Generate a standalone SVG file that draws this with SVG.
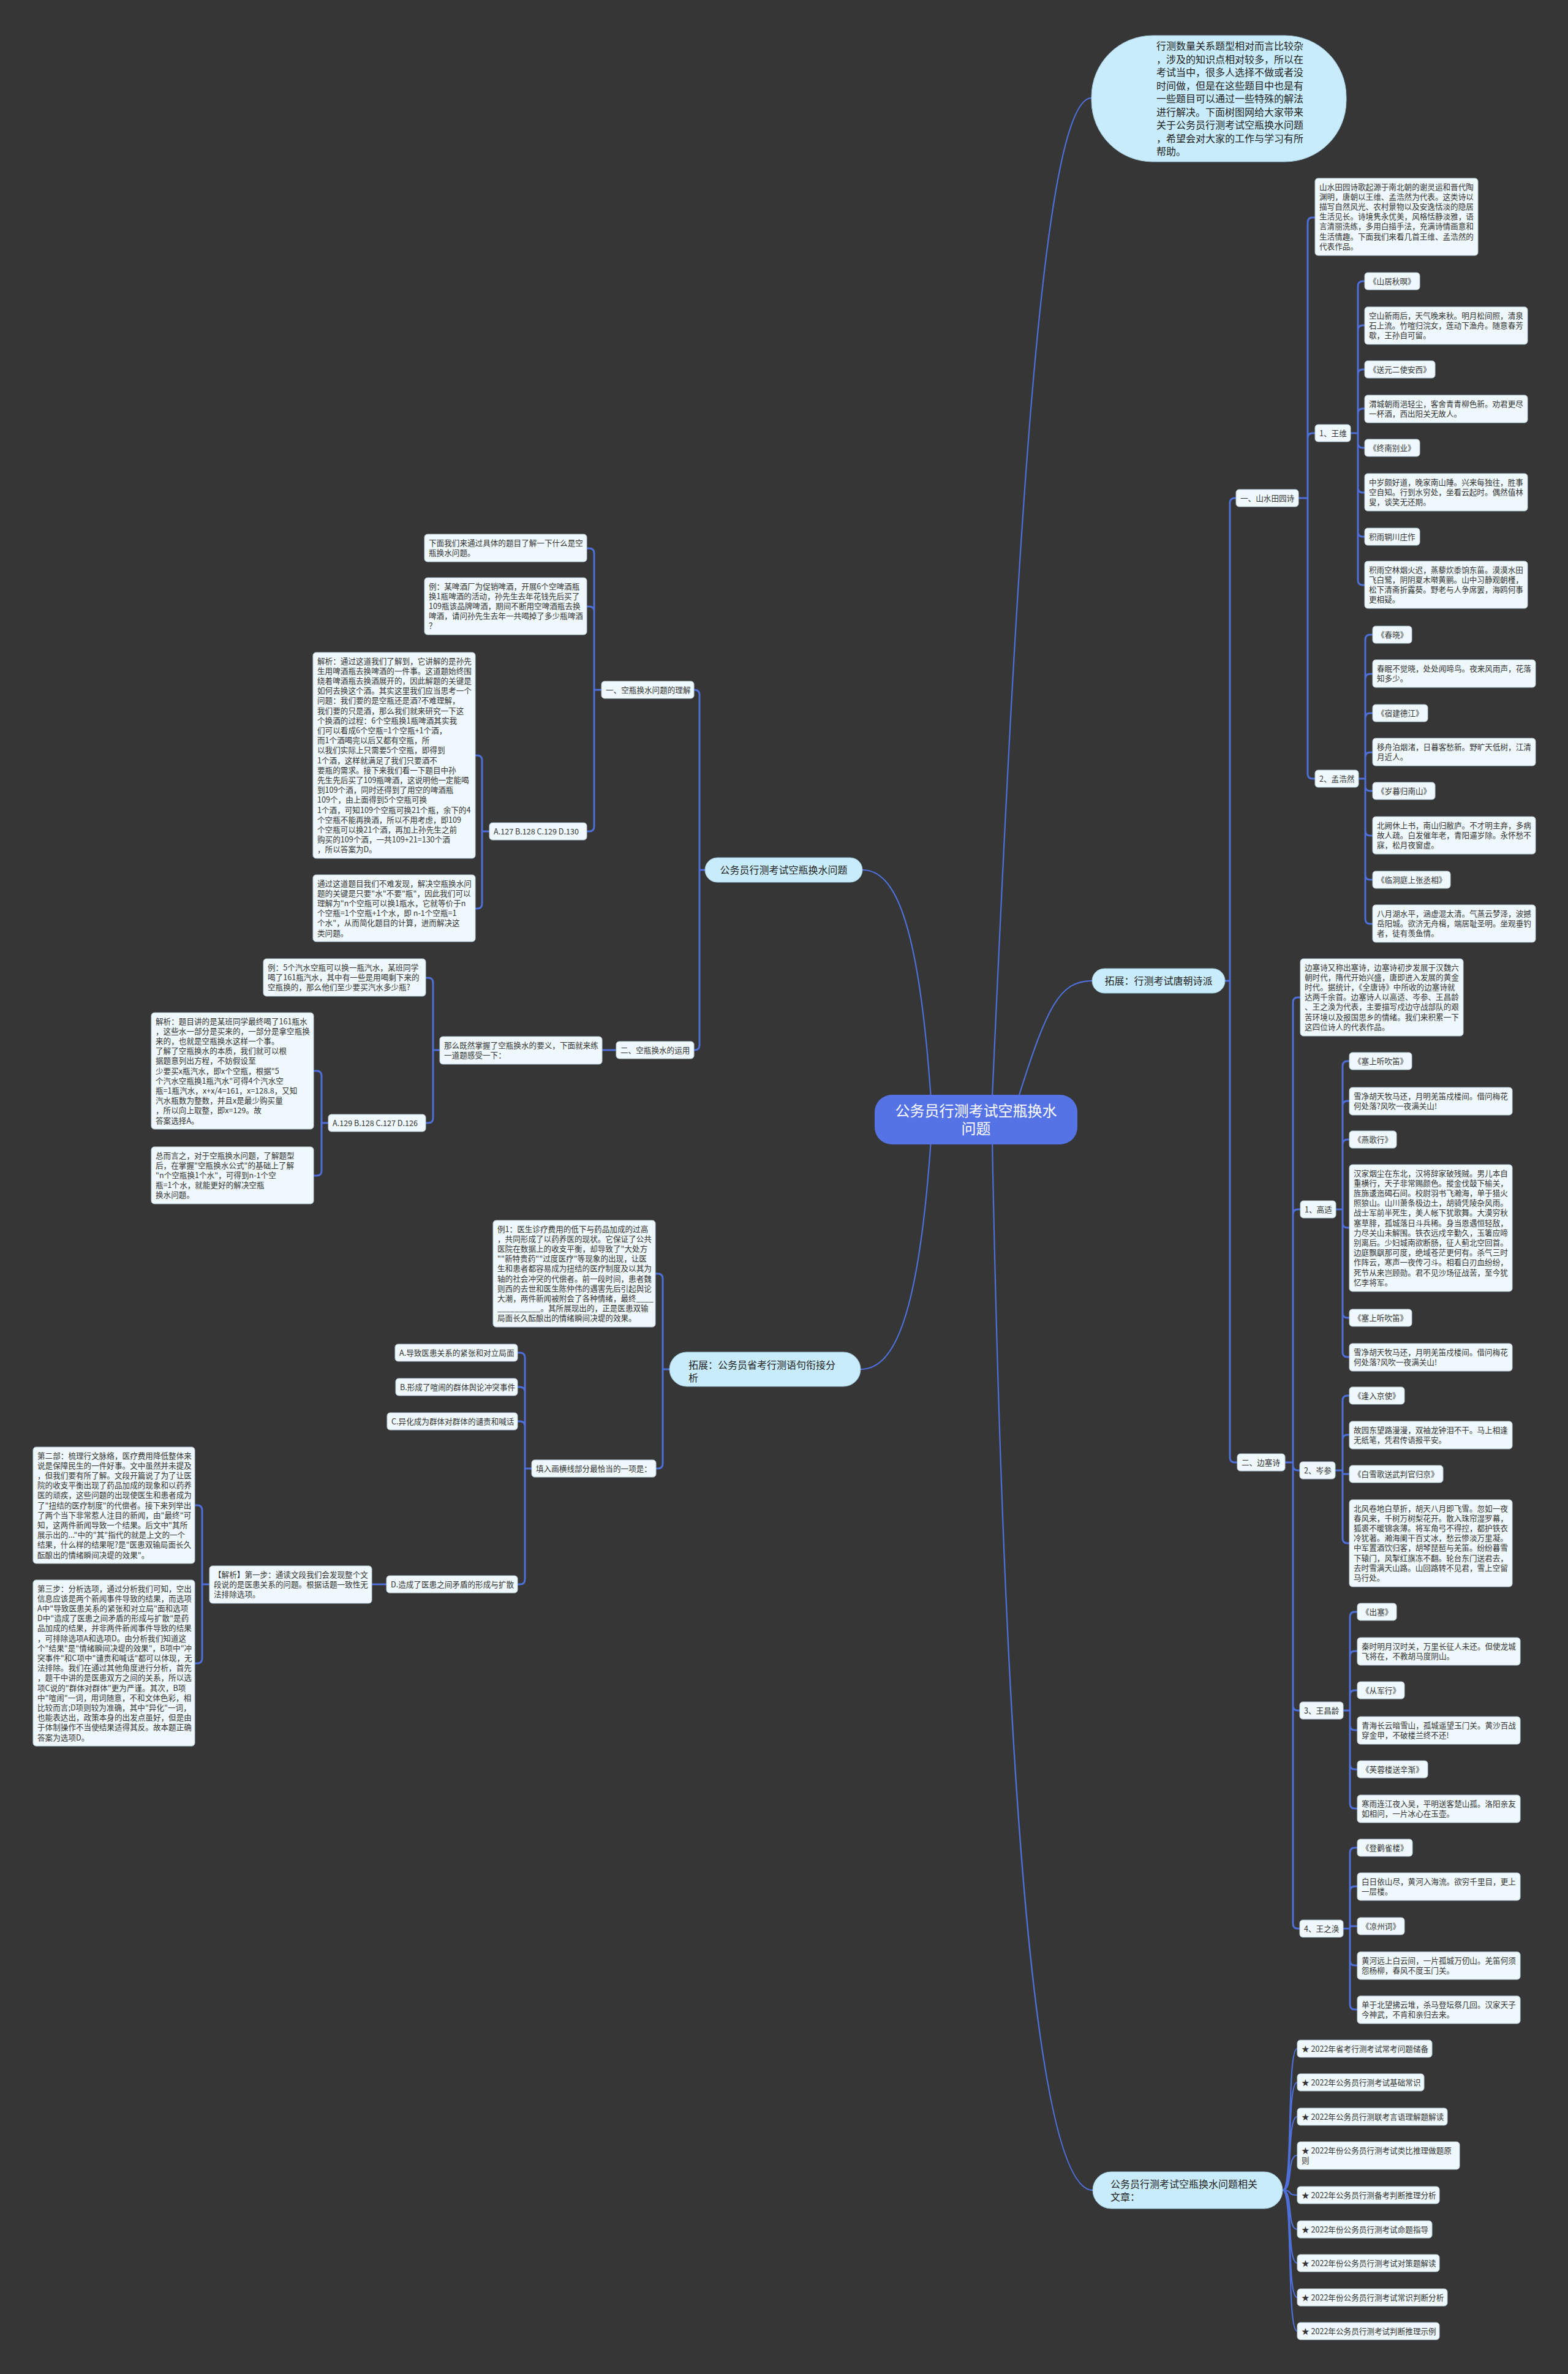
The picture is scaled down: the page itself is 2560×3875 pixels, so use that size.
<svg xmlns="http://www.w3.org/2000/svg" width="2560" height="3875" viewBox="0 0 2560 3875">
<style>
.t{font-family:"Noto Sans CJK SC","Noto Sans",sans-serif;font-size:12.6px;fill:#333}
.pt{font-family:"Noto Sans CJK SC","Noto Sans",sans-serif;font-size:16px;fill:#222}
.box{fill:#eff9fd;stroke:#b9ccd6;stroke-width:1}
.pill{fill:#c8ecfb;stroke:#9fc6d8;stroke-width:1}
.c{fill:none;stroke:#4f6fd8;stroke-width:3}
.m{fill:none;stroke:#4f6fd8;stroke-width:2.2}
</style>
<rect x="0" y="0" width="2560" height="3875" fill="#363636"/>
<g id="connectors">
<path class="m" d="M1620,1790 C1660,900 1700,160 1782,160"/>
<path class="m" d="M1660,1800 C1710,1640 1730,1601 1783,1601"/>
<path class="m" d="M1620,1865 C1640,2900 1690,3575 1784,3575"/>
<path class="m" d="M1520,1795 C1500,1500 1460,1420 1408,1420"/>
<path class="m" d="M1520,1860 C1500,2150 1460,2235 1405,2235"/>
<path class="c" d="M2000,1601 H2008 V821 Q2008,813 2016,813 H2018 M2008,1601 V2379 Q2008,2387 2016,2387 H2020"/>
<path class="c" d="M2120,813 H2135 V363 Q2135,355 2143,355 H2147 M2135,813 V715 Q2135,707 2143,707 H2147 M2135,813 V1263 Q2135,1271 2143,1271 H2147"/>
<path class="c" d="M2205,707 H2217 V467 Q2217,459 2225,459 H2228 M2217,707 V539 Q2217,531 2225,531 H2228 M2217,707 V611 Q2217,603 2225,603 H2228 M2217,707 V675 Q2217,667 2225,667 H2228 M2217,707 V723 Q2217,731 2225,731 H2228 M2217,707 V796 Q2217,804 2225,804 H2228 M2217,707 V868 Q2217,876 2225,876 H2228 M2217,707 V947 Q2217,955 2225,955 H2228"/>
<path class="c" d="M2218,1271 H2229 V1044 Q2229,1036 2237,1036 H2241 M2229,1271 V1108 Q2229,1100 2237,1100 H2241 M2229,1271 V1172 Q2229,1164 2237,1164 H2241 M2229,1271 V1236 Q2229,1228 2237,1228 H2241 M2229,1271 V1283 Q2229,1291 2237,1291 H2241 M2229,1271 V1356 Q2229,1364 2237,1364 H2241 M2229,1271 V1428 Q2229,1436 2237,1436 H2241 M2229,1271 V1500 Q2229,1508 2237,1508 H2241"/>
<path class="c" d="M2098,2387 H2111 V1636 Q2111,1628 2119,1628 H2123 M2111,2387 V1982 Q2111,1974 2119,1974 H2123 M2111,2387 V2392 Q2111,2400 2119,2400 H2122 M2111,2387 V2784 Q2111,2792 2119,2792 H2122 M2111,2387 V3140 Q2111,3148 2119,3148 H2122"/>
<path class="c" d="M2181,1974 H2192 V1740 Q2192,1732 2200,1732 H2203 M2192,1974 V1805 Q2192,1797 2200,1797 H2203 M2192,1974 V1868 Q2192,1860 2200,1860 H2203 M2192,1974 V1996 Q2192,2004 2200,2004 H2203 M2192,1974 V2143 Q2192,2151 2200,2151 H2203 M2192,1974 V2207 Q2192,2215 2200,2215 H2203"/>
<path class="c" d="M2180,2400 H2192 V2286 Q2192,2278 2200,2278 H2203 M2192,2400 V2350 Q2192,2342 2200,2342 H2203 M2192,2400 V2406 H2203 M2192,2400 V2511 Q2192,2519 2200,2519 H2203"/>
<path class="c" d="M2193,2792 H2204 V2639 Q2204,2631 2212,2631 H2216 M2204,2792 V2703 Q2204,2695 2212,2695 H2216 M2204,2792 V2767 Q2204,2759 2212,2759 H2216 M2204,2792 V2816 Q2204,2824 2212,2824 H2216 M2204,2792 V2880 Q2204,2888 2212,2888 H2216 M2204,2792 V2944 Q2204,2952 2212,2952 H2216"/>
<path class="c" d="M2193,3148 H2204 V3024 Q2204,3016 2212,3016 H2216 M2204,3148 V3087 Q2204,3079 2212,3079 H2216 M2204,3148 V3144 H2216 M2204,3148 V3200 Q2204,3208 2212,3208 H2216 M2204,3148 V3272 Q2204,3280 2212,3280 H2216"/>
<path class="m" d="M2094,3575 C2112,3575 2100,3344 2118,3344 M2094,3575 C2112,3575 2100,3399 2118,3399 M2094,3575 C2112,3575 2100,3455 2118,3455 M2094,3575 C2112,3575 2100,3518 2118,3518 M2094,3575 C2112,3575 2100,3583 2118,3583 M2094,3575 C2112,3575 2100,3639 2118,3639 M2094,3575 C2112,3575 2100,3694 2118,3694 M2094,3575 C2112,3575 2100,3750 2118,3750 M2094,3575 C2112,3575 2100,3805 2118,3805"/>
<path class="c" d="M1151,1420 H1142 V1134 Q1142,1126 1134,1126 H1133 M1142,1420 V1706 Q1142,1714 1134,1714 H1132"/>
<path class="c" d="M982,1126 H970 V903 Q970,895 962,895 H958 M970,1126 V998 Q970,990 962,990 H958 M970,1126 V1349 Q970,1357 962,1357 H958"/>
<path class="c" d="M799,1357 H787 V1241 Q787,1233 779,1233 H776 M787,1357 V1475 Q787,1483 779,1483 H776"/>
<path class="c" d="M1006,1714 H983"/>
<path class="c" d="M718,1714 H707 V1604 Q707,1596 699,1596 H695 M707,1714 V1825 Q707,1833 699,1833 H695"/>
<path class="c" d="M536,1833 H525 V1756 Q525,1748 517,1748 H512 M525,1833 V1911 Q525,1919 517,1919 H512"/>
<path class="c" d="M1093,2235 H1082 V2087 Q1082,2079 1074,2079 H1070 M1082,2235 V2389 Q1082,2397 1074,2397 H1071"/>
<path class="c" d="M868,2397 H857 V2216 Q857,2208 849,2208 H845 M857,2397 V2272 Q857,2264 849,2264 H845 M857,2397 V2328 Q857,2320 849,2320 H845 M857,2397 V2578 Q857,2586 849,2586 H845"/>
<path class="c" d="M631,2586 H607"/>
<path class="c" d="M342,2586 H330 V2465 Q330,2457 322,2457 H318 M330,2586 V2707 Q330,2715 322,2715 H318"/>
</g>

<g id="center">
<rect x="1428" y="1787" width="331" height="81" rx="28" fill="#5573e4"/>
<text x="1593.5" y="1822" text-anchor="middle" font-family="Noto Sans CJK SC, sans-serif" font-size="24" fill="#fff">公务员行测考试空瓶换水</text>
<text x="1593.5" y="1851" text-anchor="middle" font-family="Noto Sans CJK SC, sans-serif" font-size="24" fill="#fff">问题</text>
</g>

<g id="intro">
<rect x="1782" y="58" width="416" height="206" rx="100" ry="100" class="pill"/>
<text class="pt" x="1888" y="81"><tspan x="1888">行测数量关系题型相对而言比较杂</tspan><tspan x="1888" dy="21.5">，涉及的知识点相对较多，所以在</tspan><tspan x="1888" dy="21.5">考试当中，很多人选择不做或者没</tspan><tspan x="1888" dy="21.5">时间做，但是在这些题目中也是有</tspan><tspan x="1888" dy="21.5">一些题目可以通过一些特殊的解法</tspan><tspan x="1888" dy="21.5">进行解决。下面树图网给大家带来</tspan><tspan x="1888" dy="21.5">关于公务员行测考试空瓶换水问题</tspan><tspan x="1888" dy="21.5">，希望会对大家的工作与学习有所</tspan><tspan x="1888" dy="21.5">帮助。</tspan></text>
</g>

<g id="tuozhan-shipai">
<rect x="1783" y="1581" width="217" height="40" rx="20" class="pill"/>
<text class="pt" x="1891.5" y="1607" text-anchor="middle">拓展：行测考试唐朝诗派</text>
</g>

<g id="shanshui"><rect class="box" x="2018" y="799" width="102" height="28" rx="5"/><text class="t" x="2025" y="817.5">一、山水田园诗</text></g>
<g id="shanshui-intro"><rect class="box" x="2147" y="291" width="266" height="126" rx="5"/><text class="t" x="2154" y="309.5"><tspan x="2154">山水田园诗歌起源于南北朝的谢灵运和晋代陶</tspan><tspan x="2154" dy="16.2">渊明，唐朝以王维、孟浩然为代表。这类诗以</tspan><tspan x="2154" dy="16.2">描写自然风光、农村景物以及安逸恬淡的隐居</tspan><tspan x="2154" dy="16.2">生活见长。诗境隽永优美，风格恬静淡雅，语</tspan><tspan x="2154" dy="16.2">言清丽洗练，多用白描手法，充满诗情画意和</tspan><tspan x="2154" dy="16.2">生活情趣。下面我们来看几首王维、孟浩然的</tspan><tspan x="2154" dy="16.2">代表作品。</tspan></text></g>

<g id="wangwei"><rect class="box" x="2147" y="693" width="58" height="28" rx="5"/><text class="t" x="2154" y="711.5">1、王维</text></g>
<g id="ww1"><rect class="box" x="2228" y="445" width="90" height="28" rx="5"/><text class="t" x="2235" y="463.5">《山居秋暝》</text></g>
<g id="ww2"><rect class="box" x="2228" y="501" width="266" height="61" rx="5"/><text class="t" x="2235" y="519.5"><tspan x="2235">空山新雨后，天气晚来秋。明月松间照，清泉</tspan><tspan x="2235" dy="16.2">石上流。竹喧归浣女，莲动下渔舟。随意春芳</tspan><tspan x="2235" dy="16.2">歇，王孙自可留。</tspan></text></g>
<g id="ww3"><rect class="box" x="2228" y="589" width="115" height="28" rx="5"/><text class="t" x="2235" y="607.5">《送元二使安西》</text></g>
<g id="ww4"><rect class="box" x="2228" y="645" width="266" height="45" rx="5"/><text class="t" x="2235" y="663.5"><tspan x="2235">渭城朝雨浥轻尘，客舍青青柳色新。劝君更尽</tspan><tspan x="2235" dy="16.2">一杯酒，西出阳关无故人。</tspan></text></g>
<g id="ww5"><rect class="box" x="2228" y="717" width="90" height="28" rx="5"/><text class="t" x="2235" y="735.5">《终南别业》</text></g>
<g id="ww6"><rect class="box" x="2228" y="773" width="266" height="61" rx="5"/><text class="t" x="2235" y="791.5"><tspan x="2235">中岁颇好道，晚家南山陲。兴来每独往，胜事</tspan><tspan x="2235" dy="16.2">空自知。行到水穷处，坐看云起时。偶然值林</tspan><tspan x="2235" dy="16.2">叟，谈笑无还期。</tspan></text></g>
<g id="ww7"><rect class="box" x="2228" y="862" width="90" height="28" rx="5"/><text class="t" x="2235" y="880.5">积雨辋川庄作</text></g>
<g id="ww8"><rect class="box" x="2228" y="916" width="266" height="77" rx="5"/><text class="t" x="2235" y="934.5"><tspan x="2235">积雨空林烟火迟，蒸藜炊黍饷东菑。漠漠水田</tspan><tspan x="2235" dy="16.2">飞白鹭，阴阴夏木啭黄鹂。山中习静观朝槿，</tspan><tspan x="2235" dy="16.2">松下清斋折露葵。野老与人争席罢，海鸥何事</tspan><tspan x="2235" dy="16.2">更相疑。</tspan></text></g>

<g id="menghaoran"><rect class="box" x="2147" y="1257" width="71" height="28" rx="5"/><text class="t" x="2154" y="1275.5">2、孟浩然</text></g>
<g id="mh1"><rect class="box" x="2241" y="1022" width="64" height="28" rx="5"/><text class="t" x="2248" y="1040.5">《春晓》</text></g>
<g id="mh2"><rect class="box" x="2241" y="1077" width="266" height="45" rx="5"/><text class="t" x="2248" y="1095.5"><tspan x="2248">春眠不觉晓，处处闻啼鸟。夜来风雨声，花落</tspan><tspan x="2248" dy="16.2">知多少。</tspan></text></g>
<g id="mh3"><rect class="box" x="2241" y="1150" width="90" height="28" rx="5"/><text class="t" x="2248" y="1168.5">《宿建德江》</text></g>
<g id="mh4"><rect class="box" x="2241" y="1205" width="266" height="45" rx="5"/><text class="t" x="2248" y="1223.5"><tspan x="2248">移舟泊烟渚，日暮客愁新。野旷天低树，江清</tspan><tspan x="2248" dy="16.2">月近人。</tspan></text></g>
<g id="mh5"><rect class="box" x="2241" y="1277" width="102" height="28" rx="5"/><text class="t" x="2248" y="1295.5">《岁暮归南山》</text></g>
<g id="mh6"><rect class="box" x="2241" y="1333" width="266" height="61" rx="5"/><text class="t" x="2248" y="1351.5"><tspan x="2248">北阙休上书，南山归敝庐。不才明主弃，多病</tspan><tspan x="2248" dy="16.2">故人疏。白发催年老，青阳逼岁除。永怀愁不</tspan><tspan x="2248" dy="16.2">寐，松月夜窗虚。</tspan></text></g>
<g id="mh7"><rect class="box" x="2241" y="1422" width="127" height="28" rx="5"/><text class="t" x="2248" y="1440.5">《临洞庭上张丞相》</text></g>
<g id="mh8"><rect class="box" x="2241" y="1477" width="266" height="61" rx="5"/><text class="t" x="2248" y="1495.5"><tspan x="2248">八月湖水平，涵虚混太清。气蒸云梦泽，波撼</tspan><tspan x="2248" dy="16.2">岳阳城。欲济无舟楫，端居耻圣明。坐观垂钓</tspan><tspan x="2248" dy="16.2">者，徒有羡鱼情。</tspan></text></g>

<g id="biansai"><rect class="box" x="2020" y="2373" width="78" height="28" rx="5"/><text class="t" x="2027" y="2391.5">二、边塞诗</text></g>
<g id="biansai-intro"><rect class="box" x="2123" y="1565" width="266" height="126" rx="5"/><text class="t" x="2130" y="1583.5"><tspan x="2130">边塞诗又称出塞诗，边塞诗初步发展于汉魏六</tspan><tspan x="2130" dy="16.2">朝时代，隋代开始兴盛，唐即进入发展的黄金</tspan><tspan x="2130" dy="16.2">时代。据统计，《全唐诗》中所收的边塞诗就</tspan><tspan x="2130" dy="16.2">达两千余首。边塞诗人以高适、岑参、王昌龄</tspan><tspan x="2130" dy="16.2">、王之涣为代表，主要描写戍边守战部队的艰</tspan><tspan x="2130" dy="16.2">苦环境以及报国思乡的情绪。我们来积累一下</tspan><tspan x="2130" dy="16.2">这四位诗人的代表作品。</tspan></text></g>

<g id="gaoshi"><rect class="box" x="2123" y="1960" width="58" height="28" rx="5"/><text class="t" x="2130" y="1978.5">1、高适</text></g>
<g id="gs1"><rect class="box" x="2203" y="1718" width="102" height="28" rx="5"/><text class="t" x="2210" y="1736.5">《塞上听吹笛》</text></g>
<g id="gs2"><rect class="box" x="2203" y="1775" width="266" height="45" rx="5"/><text class="t" x="2210" y="1793.5"><tspan x="2210">雪净胡天牧马还，月明羌笛戍楼间。借问梅花</tspan><tspan x="2210" dy="16.2">何处落?风吹一夜满关山!</tspan></text></g>
<g id="gs3"><rect class="box" x="2203" y="1846" width="77" height="28" rx="5"/><text class="t" x="2210" y="1864.5">《燕歌行》</text></g>
<g id="gs4"><rect class="box" x="2203" y="1901" width="266" height="207" rx="5"/><text class="t" x="2210" y="1919.5"><tspan x="2210">汉家烟尘在东北，汉将辞家破残贼。男儿本自</tspan><tspan x="2210" dy="16.2">重横行，天子非常赐颜色。摐金伐鼓下榆关，</tspan><tspan x="2210" dy="16.2">旌旆逶迤碣石间。校尉羽书飞瀚海，单于猎火</tspan><tspan x="2210" dy="16.2">照狼山。山川萧条极边土，胡骑凭陵杂风雨。</tspan><tspan x="2210" dy="16.2">战士军前半死生，美人帐下犹歌舞。大漠穷秋</tspan><tspan x="2210" dy="16.2">塞草腓，孤城落日斗兵稀。身当恩遇恒轻敌，</tspan><tspan x="2210" dy="16.2">力尽关山未解围。铁衣远戍辛勤久，玉箸应啼</tspan><tspan x="2210" dy="16.2">别离后。少妇城南欲断肠，征人蓟北空回首。</tspan><tspan x="2210" dy="16.2">边庭飘飖那可度，绝域苍茫更何有。杀气三时</tspan><tspan x="2210" dy="16.2">作阵云，寒声一夜传刁斗。相看白刃血纷纷，</tspan><tspan x="2210" dy="16.2">死节从来岂顾勋。君不见沙场征战苦，至今犹</tspan><tspan x="2210" dy="16.2">忆李将军。</tspan></text></g>
<g id="gs5"><rect class="box" x="2203" y="2137" width="102" height="28" rx="5"/><text class="t" x="2210" y="2155.5">《塞上听吹笛》</text></g>
<g id="gs6"><rect class="box" x="2203" y="2193" width="266" height="45" rx="5"/><text class="t" x="2210" y="2211.5"><tspan x="2210">雪净胡天牧马还，月明羌笛戍楼间。借问梅花</tspan><tspan x="2210" dy="16.2">何处落?风吹一夜满关山!</tspan></text></g>

<g id="censhen"><rect class="box" x="2122" y="2386" width="58" height="28" rx="5"/><text class="t" x="2129" y="2404.5">2、岑参</text></g>
<g id="cs1"><rect class="box" x="2203" y="2264" width="90" height="28" rx="5"/><text class="t" x="2210" y="2282.5">《逢入京使》</text></g>
<g id="cs2"><rect class="box" x="2203" y="2320" width="266" height="45" rx="5"/><text class="t" x="2210" y="2338.5"><tspan x="2210">故园东望路漫漫，双袖龙钟泪不干。马上相逢</tspan><tspan x="2210" dy="16.2">无纸笔，凭君传语报平安。</tspan></text></g>
<g id="cs3"><rect class="box" x="2203" y="2392" width="153" height="28" rx="5"/><text class="t" x="2210" y="2410.5">《白雪歌送武判官归京》</text></g>
<g id="cs4"><rect class="box" x="2203" y="2448" width="266" height="142" rx="5"/><text class="t" x="2210" y="2466.5"><tspan x="2210">北风卷地白草折，胡天八月即飞雪。忽如一夜</tspan><tspan x="2210" dy="16.2">春风来，千树万树梨花开。散入珠帘湿罗幕，</tspan><tspan x="2210" dy="16.2">狐裘不暖锦衾薄。将军角弓不得控，都护铁衣</tspan><tspan x="2210" dy="16.2">冷犹著。瀚海阑干百丈冰，愁云惨淡万里凝。</tspan><tspan x="2210" dy="16.2">中军置酒饮归客，胡琴琵琶与羌笛。纷纷暮雪</tspan><tspan x="2210" dy="16.2">下辕门，风掣红旗冻不翻。轮台东门送君去，</tspan><tspan x="2210" dy="16.2">去时雪满天山路。山回路转不见君，雪上空留</tspan><tspan x="2210" dy="16.2">马行处。</tspan></text></g>

<g id="wangchangling"><rect class="box" x="2122" y="2778" width="71" height="28" rx="5"/><text class="t" x="2129" y="2796.5">3、王昌龄</text></g>
<g id="wc1"><rect class="box" x="2216" y="2617" width="64" height="28" rx="5"/><text class="t" x="2223" y="2635.5">《出塞》</text></g>
<g id="wc2"><rect class="box" x="2216" y="2673" width="266" height="45" rx="5"/><text class="t" x="2223" y="2691.5"><tspan x="2223">秦时明月汉时关，万里长征人未还。但使龙城</tspan><tspan x="2223" dy="16.2">飞将在，不教胡马度阴山。</tspan></text></g>
<g id="wc3"><rect class="box" x="2216" y="2745" width="77" height="28" rx="5"/><text class="t" x="2223" y="2763.5">《从军行》</text></g>
<g id="wc4"><rect class="box" x="2216" y="2802" width="266" height="45" rx="5"/><text class="t" x="2223" y="2820.5"><tspan x="2223">青海长云暗雪山，孤城遥望玉门关。黄沙百战</tspan><tspan x="2223" dy="16.2">穿金甲，不破楼兰终不还!</tspan></text></g>
<g id="wc5"><rect class="box" x="2216" y="2874" width="115" height="28" rx="5"/><text class="t" x="2223" y="2892.5">《芙蓉楼送辛渐》</text></g>
<g id="wc6"><rect class="box" x="2216" y="2930" width="266" height="45" rx="5"/><text class="t" x="2223" y="2948.5"><tspan x="2223">寒雨连江夜入吴，平明送客楚山孤。洛阳亲友</tspan><tspan x="2223" dy="16.2">如相问，一片冰心在玉壶。</tspan></text></g>

<g id="wangzhihuan"><rect class="box" x="2122" y="3134" width="71" height="28" rx="5"/><text class="t" x="2129" y="3152.5">4、王之涣</text></g>
<g id="wz1"><rect class="box" x="2216" y="3002" width="90" height="28" rx="5"/><text class="t" x="2223" y="3020.5">《登鹳雀楼》</text></g>
<g id="wz2"><rect class="box" x="2216" y="3057" width="266" height="45" rx="5"/><text class="t" x="2223" y="3075.5"><tspan x="2223">白日依山尽，黄河入海流。欲穷千里目，更上</tspan><tspan x="2223" dy="16.2">一层楼。</tspan></text></g>
<g id="wz3"><rect class="box" x="2216" y="3130" width="77" height="28" rx="5"/><text class="t" x="2223" y="3148.5">《凉州词》</text></g>
<g id="wz4"><rect class="box" x="2216" y="3186" width="266" height="45" rx="5"/><text class="t" x="2223" y="3204.5"><tspan x="2223">黄河远上白云间，一片孤城万仞山。羌笛何须</tspan><tspan x="2223" dy="16.2">怨杨柳，春风不度玉门关。</tspan></text></g>
<g id="wz5"><rect class="box" x="2216" y="3258" width="266" height="45" rx="5"/><text class="t" x="2223" y="3276.5"><tspan x="2223">单于北望拂云堆，杀马登坛祭几回。汉家天子</tspan><tspan x="2223" dy="16.2">今神武，不肯和亲归去来。</tspan></text></g>

<g id="related">
<rect x="1784" y="3545" width="310" height="60" rx="30" class="pill"/>
<text class="pt" x="1813" y="3571"><tspan x="1813">公务员行测考试空瓶换水问题相关</tspan><tspan x="1813" dy="21">文章：</tspan></text>
</g>
<g id="r1"><rect class="box" x="2118" y="3330" width="220" height="28" rx="5"/><text class="t" x="2125" y="3348.5">★ 2022年省考行测考试常考问题储备</text></g>
<g id="r2"><rect class="box" x="2118" y="3385" width="207" height="28" rx="5"/><text class="t" x="2125" y="3403.5">★ 2022年公务员行测考试基础常识</text></g>
<g id="r3"><rect class="box" x="2118" y="3441" width="245" height="28" rx="5"/><text class="t" x="2125" y="3459.5">★ 2022年公务员行测联考言语理解题解读</text></g>
<g id="r4"><rect class="box" x="2118" y="3496" width="265" height="45" rx="5"/><text class="t" x="2125" y="3514.5"><tspan x="2125">★ 2022年份公务员行测考试类比推理做题原</tspan><tspan x="2125" dy="16.2">则</tspan></text></g>
<g id="r5"><rect class="box" x="2118" y="3569" width="232" height="28" rx="5"/><text class="t" x="2125" y="3587.5">★ 2022年公务员行测备考判断推理分析</text></g>
<g id="r6"><rect class="box" x="2118" y="3625" width="220" height="28" rx="5"/><text class="t" x="2125" y="3643.5">★ 2022年份公务员行测考试命题指导</text></g>
<g id="r7"><rect class="box" x="2118" y="3680" width="232" height="28" rx="5"/><text class="t" x="2125" y="3698.5">★ 2022年份公务员行测考试对策题解读</text></g>
<g id="r8"><rect class="box" x="2118" y="3736" width="245" height="28" rx="5"/><text class="t" x="2125" y="3754.5">★ 2022年份公务员行测考试常识判断分析</text></g>
<g id="r9"><rect class="box" x="2118" y="3791" width="232" height="28" rx="5"/><text class="t" x="2125" y="3809.5">★ 2022年公务员行测考试判断推理示例</text></g>

<g id="left-main">
<rect x="1151" y="1400" width="257" height="40" rx="20" class="pill"/>
<text class="pt" x="1279.5" y="1426" text-anchor="middle">公务员行测考试空瓶换水问题</text>
</g>
<g id="l-one"><rect class="box" x="982" y="1112" width="151" height="28" rx="5"/><text class="t" x="989" y="1130.5">一、空瓶换水问题的理解</text></g>
<g id="l-one-a"><rect class="box" x="693" y="872" width="265" height="45" rx="5"/><text class="t" x="700" y="890.5"><tspan x="700">下面我们来通过具体的题目了解一下什么是空</tspan><tspan x="700" dy="16.2">瓶换水问题。</tspan></text></g>
<g id="l-one-b"><rect class="box" x="693" y="943" width="265" height="93" rx="5"/><text class="t" x="700" y="961.5"><tspan x="700">例：某啤酒厂为促销啤酒，开展6个空啤酒瓶</tspan><tspan x="700" dy="16.2">换1瓶啤酒的活动，孙先生去年花钱先后买了</tspan><tspan x="700" dy="16.2">109瓶该品牌啤酒，期间不断用空啤酒瓶去换</tspan><tspan x="700" dy="16.2">啤酒，请问孙先生去年一共喝掉了多少瓶啤酒</tspan><tspan x="700" dy="16.2">？</tspan></text></g>
<g id="l-one-c"><rect class="box" x="799" y="1343" width="159" height="28" rx="5"/><text class="t" x="806" y="1361.5">A.127 B.128 C.129 D.130</text></g>
<g id="l-one-c1"><rect class="box" x="511" y="1065" width="265" height="336" rx="5"/><text class="t" x="518" y="1083.5"><tspan x="518">解析：通过这道我们了解到，它讲解的是孙先</tspan><tspan x="518" dy="16.2">生用啤酒瓶去换啤酒的一件事。这道题始终围</tspan><tspan x="518" dy="16.2">绕着啤酒瓶去换酒展开的，因此解题的关键是</tspan><tspan x="518" dy="16.2">如何去换这个酒。其实这里我们应当思考一个</tspan><tspan x="518" dy="16.2">问题：我们要的是空瓶还是酒?不难理解，</tspan><tspan x="518" dy="16.2">我们要的只是酒，那么我们就来研究一下这</tspan><tspan x="518" dy="16.2">个换酒的过程：6个空瓶换1瓶啤酒其实我</tspan><tspan x="518" dy="16.2">们可以看成6个空瓶=1个空瓶+1个酒，</tspan><tspan x="518" dy="16.2">而1个酒喝完以后又都有空瓶，所</tspan><tspan x="518" dy="16.2">以我们实际上只需要5个空瓶，即得到</tspan><tspan x="518" dy="16.2">1个酒，这样就满足了我们只要酒不</tspan><tspan x="518" dy="16.2">要瓶的需求。接下来我们看一下题目中孙</tspan><tspan x="518" dy="16.2">先生先后买了109瓶啤酒，这说明他一定能喝</tspan><tspan x="518" dy="16.2">到109个酒，同时还得到了用空的啤酒瓶</tspan><tspan x="518" dy="16.2">109个，由上面得到5个空瓶可换</tspan><tspan x="518" dy="16.2">1个酒，可知109个空瓶可换21个瓶，余下的4</tspan><tspan x="518" dy="16.2">个空瓶不能再换酒，所以不用考虑，即109</tspan><tspan x="518" dy="16.2">个空瓶可以换21个酒，再加上孙先生之前</tspan><tspan x="518" dy="16.2">购买的109个酒，一共109+21=130个酒</tspan><tspan x="518" dy="16.2">，所以答案为D。</tspan></text></g>
<g id="l-one-c2"><rect class="box" x="511" y="1428" width="265" height="109" rx="5"/><text class="t" x="518" y="1446.5"><tspan x="518">通过这道题目我们不难发现，解决空瓶换水问</tspan><tspan x="518" dy="16.2">题的关键是只要"水"不要"瓶"，因此我们可以</tspan><tspan x="518" dy="16.2">理解为"n个空瓶可以换1瓶水，它就等价于n</tspan><tspan x="518" dy="16.2">个空瓶=1个空瓶+1个水，即 n-1个空瓶=1</tspan><tspan x="518" dy="16.2">个水"，从而简化题目的计算，进而解决这</tspan><tspan x="518" dy="16.2">类问题。</tspan></text></g>

<g id="l-two"><rect class="box" x="1006" y="1700" width="127" height="28" rx="5"/><text class="t" x="1013" y="1718.5">二、空瓶换水的运用</text></g>
<g id="l-two-a"><rect class="box" x="718" y="1692" width="265" height="45" rx="5"/><text class="t" x="725" y="1710.5"><tspan x="725">那么既然掌握了空瓶换水的要义，下面就来练</tspan><tspan x="725" dy="16.2">一道题感受一下：</tspan></text></g>
<g id="l-two-b"><rect class="box" x="430" y="1565" width="265" height="61" rx="5"/><text class="t" x="437" y="1583.5"><tspan x="437">例：5个汽水空瓶可以换一瓶汽水，某班同学</tspan><tspan x="437" dy="16.2">喝了161瓶汽水，其中有一些是用喝剩下来的</tspan><tspan x="437" dy="16.2">空瓶换的，那么他们至少要买汽水多少瓶?</tspan></text></g>
<g id="l-two-c"><rect class="box" x="536" y="1819" width="159" height="28" rx="5"/><text class="t" x="543" y="1837.5">A.129 B.128 C.127 D.126</text></g>
<g id="l-two-c1"><rect class="box" x="247" y="1653" width="265" height="190" rx="5"/><text class="t" x="254" y="1671.5"><tspan x="254">解析：题目讲的是某班同学最终喝了161瓶水</tspan><tspan x="254" dy="16.2">，这些水一部分是买来的，一部分是拿空瓶换</tspan><tspan x="254" dy="16.2">来的，也就是空瓶换水这样一个事。</tspan><tspan x="254" dy="16.2">了解了空瓶换水的本质，我们就可以根</tspan><tspan x="254" dy="16.2">据题意列出方程，不妨假设至</tspan><tspan x="254" dy="16.2">少要买x瓶汽水，即x个空瓶，根据"5</tspan><tspan x="254" dy="16.2">个汽水空瓶换1瓶汽水"可得4个汽水空</tspan><tspan x="254" dy="16.2">瓶=1瓶汽水，x+x/4=161，x=128.8，又知</tspan><tspan x="254" dy="16.2">汽水瓶数为整数，并且x是最少购买量</tspan><tspan x="254" dy="16.2">，所以向上取整，即x=129。故</tspan><tspan x="254" dy="16.2">答案选择A。</tspan></text></g>
<g id="l-two-c2"><rect class="box" x="247" y="1872" width="265" height="93" rx="5"/><text class="t" x="254" y="1890.5"><tspan x="254">总而言之，对于空瓶换水问题，了解题型</tspan><tspan x="254" dy="16.2">后，在掌握"空瓶换水公式"的基础上了解</tspan><tspan x="254" dy="16.2">"n个空瓶换1个水"，可得到n-1个空</tspan><tspan x="254" dy="16.2">瓶=1个水，就能更好的解决空瓶</tspan><tspan x="254" dy="16.2">换水问题。</tspan></text></g>

<g id="left-ext">
<rect x="1093" y="2207" width="312" height="56" rx="28" class="pill"/>
<text class="pt" x="1124" y="2234"><tspan x="1124">拓展：公务员省考行测语句衔接分</tspan><tspan x="1124" dy="21">析</tspan></text>
</g>
<g id="e-ex"><rect class="box" x="805" y="1992" width="265" height="174" rx="5"/><text class="t" x="812" y="2010.5"><tspan x="812">例1：医生诊疗费用的低下与药品加成的过高</tspan><tspan x="812" dy="16.2">，共同形成了以药养医的现状。它保证了公共</tspan><tspan x="812" dy="16.2">医院在数据上的收支平衡，却导致了"大处方</tspan><tspan x="812" dy="16.2">""新特贵药""过度医疗"等现象的出现，让医</tspan><tspan x="812" dy="16.2">生和患者都容易成为扭结的医疗制度及以其为</tspan><tspan x="812" dy="16.2">轴的社会冲突的代偿者。前一段时间，患者魏</tspan><tspan x="812" dy="16.2">则西的去世和医生陈仲伟的遇害先后引起舆论</tspan><tspan x="812" dy="16.2">大潮，两件新闻被附会了各种情绪，最终____</tspan><tspan x="812" dy="16.2">__________。其所展现出的，正是医患双输</tspan><tspan x="812" dy="16.2">局面长久酝酿出的情绪瞬间决堤的效果。</tspan></text></g>
<g id="e-q"><rect class="box" x="868" y="2383" width="203" height="28" rx="5"/><text class="t" x="875" y="2401.5">填入画横线部分最恰当的一项是：</text></g>
<g id="e-a"><rect class="box" x="645" y="2194" width="200" height="28" rx="5"/><text class="t" x="652" y="2212.5">A.导致医患关系的紧张和对立局面</text></g>
<g id="e-b"><rect class="box" x="646" y="2250" width="199" height="28" rx="5"/><text class="t" x="653" y="2268.5">B.形成了喧闹的群体舆论冲突事件</text></g>
<g id="e-c"><rect class="box" x="632" y="2306" width="213" height="28" rx="5"/><text class="t" x="639" y="2324.5">C.异化成为群体对群体的谴责和喊话</text></g>
<g id="e-d"><rect class="box" x="631" y="2572" width="214" height="28" rx="5"/><text class="t" x="638" y="2590.5">D.造成了医患之间矛盾的形成与扩散</text></g>
<g id="e-d1"><rect class="box" x="342" y="2556" width="265" height="61" rx="5"/><text class="t" x="349" y="2574.5"><tspan x="349">【解析】第一步：通读文段我们会发现整个文</tspan><tspan x="349" dy="16.2">段说的是医患关系的问题。根据话题一致性无</tspan><tspan x="349" dy="16.2">法排除选项。</tspan></text></g>
<g id="e-d2"><rect class="box" x="54" y="2362" width="264" height="190" rx="5"/><text class="t" x="61" y="2380.5"><tspan x="61">第二部：梳理行文脉络，医疗费用降低整体来</tspan><tspan x="61" dy="16.2">说是保障民生的一件好事。文中虽然并未提及</tspan><tspan x="61" dy="16.2">，但我们要有所了解。文段开篇说了为了让医</tspan><tspan x="61" dy="16.2">院的收支平衡出现了药品加成的现象和以药养</tspan><tspan x="61" dy="16.2">医的顽疾，这些问题的出现使医生和患者成为</tspan><tspan x="61" dy="16.2">了"扭结的医疗制度"的代偿者。接下来列举出</tspan><tspan x="61" dy="16.2">了两个当下非常惹人注目的新闻，由"最终"可</tspan><tspan x="61" dy="16.2">知，这两件新闻导致一个结果。后文中"其所</tspan><tspan x="61" dy="16.2">展示出的..."中的"其"指代的就是上文的一个</tspan><tspan x="61" dy="16.2">结果，什么样的结果呢?是"医患双输局面长久</tspan><tspan x="61" dy="16.2">酝酿出的情绪瞬间决堤的效果"。</tspan></text></g>
<g id="e-d3"><rect class="box" x="54" y="2579" width="264" height="271" rx="5"/><text class="t" x="61" y="2597.5"><tspan x="61">第三步：分析选项，通过分析我们可知，空出</tspan><tspan x="61" dy="16.2">信息应该是两个新闻事件导致的结果，而选项</tspan><tspan x="61" dy="16.2">A中"导致医患关系的紧张和对立局"面和选项</tspan><tspan x="61" dy="16.2">D中"造成了医患之间矛盾的形成与扩散"是药</tspan><tspan x="61" dy="16.2">品加成的结果，并非两件新闻事件导致的结果</tspan><tspan x="61" dy="16.2">，可排除选项A和选项D。由分析我们知道这</tspan><tspan x="61" dy="16.2">个"结果"是"情绪瞬间决堤的效果"，B项中"冲</tspan><tspan x="61" dy="16.2">突事件"和C项中"谴责和喊话"都可以体现，无</tspan><tspan x="61" dy="16.2">法排除。我们在通过其他角度进行分析，首先</tspan><tspan x="61" dy="16.2">，题干中讲的是医患双方之间的关系，所以选</tspan><tspan x="61" dy="16.2">项C说的"群体对群体"更为严谨。其次，B项</tspan><tspan x="61" dy="16.2">中"喧闹"一词，用词随意，不和文体色彩，相</tspan><tspan x="61" dy="16.2">比较而言;D项则较为准确，其中"异化"一词，</tspan><tspan x="61" dy="16.2">也能表达出，政策本身的出发点虽好，但是由</tspan><tspan x="61" dy="16.2">于体制操作不当使结果适得其反。故本题正确</tspan><tspan x="61" dy="16.2">答案为选项D。</tspan></text></g>
</svg>
